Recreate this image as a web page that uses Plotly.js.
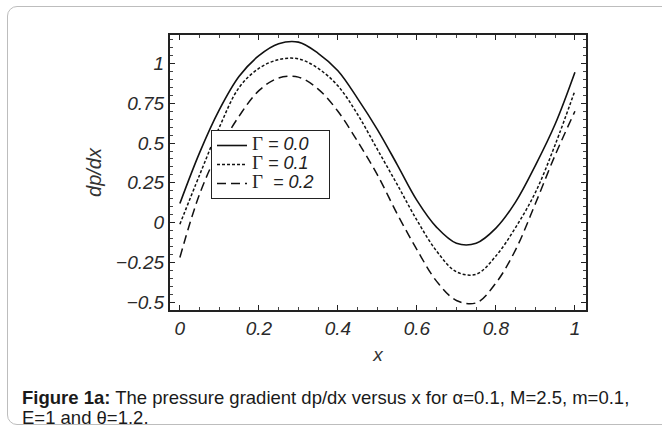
<!DOCTYPE html>
<html><head><meta charset="utf-8">
<script src="https://cdn.plot.ly/plotly-3.0.1.min.js"></script>
<style>
html,body{margin:0;padding:0;width:662px;height:428px;overflow:hidden;background:#fff;}
#frame{position:absolute;left:7px;top:6px;width:720px;height:419px;border:1px solid #bdbdbd;border-radius:10px;box-sizing:border-box;}
#chart{position:absolute;left:0;top:0;width:662px;height:428px;}
</style></head><body>
<div id="frame"></div><div id="chart"></div>
<script>
const xValues = [0,0.05,0.1,0.15,0.2,0.25,0.3,0.35,0.4,0.45,0.5,0.55,0.6,0.65,0.7,0.75,0.8,0.85,0.9,0.95,1.0];
const dpdxGamma00 = [0.12,0.44,0.71,0.92,1.05,1.125,1.135,1.065,0.955,0.78,0.585,0.365,0.14,-0.03,-0.13,-0.13,-0.035,0.13,0.36,0.62,0.946];
const dpdxGamma01 = [-0.01,0.30,0.60,0.85,0.97,1.025,1.03,0.97,0.86,0.68,0.46,0.24,0.015,-0.18,-0.31,-0.325,-0.21,-0.03,0.19,0.49,0.83];
const dpdxGamma02 = [-0.22,0.18,0.46,0.67,0.83,0.91,0.915,0.84,0.70,0.51,0.30,0.055,-0.17,-0.37,-0.49,-0.505,-0.38,-0.17,0.12,0.425,0.70];
const seriesNames = ['Γ = 0.0','Γ = 0.1','Γ  = 0.2'];
const xTickVals = [0,0.2,0.4,0.6,0.8,1];
const xTickText = ['0','0.2','0.4','0.6','0.8','1'];
const yTickVals = [-0.5,-0.25,0,0.25,0.5,0.75,1];
const yTickText = ['\u22120.5','\u22120.25','0','0.25','0.5','0.75','1'];
const captionBold = 'Figure 1a:';
const captionLine1 = ' The pressure gradient dp/dx versus x for α=0.1, M=2.5, m=0.1,';
const captionLine2 = 'E=1 and θ=1.2.';

function legendName(s){
  const i = s.indexOf('=');
  const pre = s.slice(1, i);
  return '<span style="font-size:18px"><span style="font-family:\'Liberation Serif\',serif;font-style:normal;font-size:19px">Γ</span>' +
         pre.replace(/ /g,'\u00a0') + '= ' + s.slice(i+1).trim() + '\u00a0\u00a0</span>';
}

const dashes = ['solid','3px,2px','9px,5px'];
const ys = [dpdxGamma00, dpdxGamma01, dpdxGamma02];
const traces = ys.map((y,i)=>({
  x: xValues, y: y, type:'scatter', mode:'lines',
  name: legendName(seriesNames[i]),
  line:{color:'#111', width: i===0?1.6:1.5, dash:dashes[i], shape:'spline', smoothing:1}
}));

const SANS = '"Liberation Sans", Arial, sans-serif';
const tickFont = {family:SANS, size:19, style:'italic', color:'#2a2a2a'};
const W=662,H=428,L=170,R=76,T=35,B=118;
const pw=W-L-R, ph=H-T-B;
function px2x(p){return (p-L)/pw;}
function py2y(p){return (H-B-p)/ph;}

const layout = {
  width:W, height:H,
  margin:{l:L,r:R,t:T,b:B,pad:0},
  paper_bgcolor:'rgba(0,0,0,0)', plot_bgcolor:'#fff',
  showlegend:true,
  legend:{x:px2x(211), y:py2y(130), xanchor:'left', yanchor:'top',
    bgcolor:'#fff', bordercolor:'#222', borderwidth:1,
    font:{family:SANS, size:12, style:'italic', color:'#222'},
    itemwidth:30, tracegroupgap:0},
  xaxis:{range:[-0.025,1.028], tickvals:xTickVals, ticktext:xTickText,
    ticks:'inside', ticklen:5, tickwidth:1, tickcolor:'#222',
    minor:{dtick:0.05, tick0:0, ticks:'inside', ticklen:3, tickcolor:'#444'},
    showline:true, linewidth:2, linecolor:'#222', mirror:'ticks',
    showgrid:false, zeroline:false, tickfont:tickFont,
    title:{text:'x', font:{family:SANS, size:19, style:'italic', color:'#333'}, standoff:10}},
  yaxis:{range:[-0.55,1.18], tickvals:yTickVals, ticktext:yTickText,
    ticks:'inside', ticklen:5, tickwidth:1, tickcolor:'#222',
    minor:{dtick:0.05, tick0:0, ticks:'inside', ticklen:3, tickcolor:'#444'},
    showline:true, linewidth:2, linecolor:'#222', mirror:'ticks',
    showgrid:false, zeroline:false, tickfont:tickFont,
    title:{text:'dp/dx', font:{family:SANS, size:20, style:'italic', color:'#333'}, standoff:9}},
  annotations:[
    {xref:'paper', yref:'paper', x:px2x(20), y:py2y(397), xanchor:'left', yanchor:'middle', showarrow:false, align:'left',
     text:'<b>'+captionBold+'</b>'+captionLine1,
     font:{family:SANS, size:18.5, color:'#1a1a1a'}},
    {xref:'paper', yref:'paper', x:px2x(20), y:py2y(417), xanchor:'left', yanchor:'middle', showarrow:false, align:'left',
     text:captionLine2,
     font:{family:SANS, size:18.5, color:'#1a1a1a'}}
  ]
};
Plotly.newPlot('chart', traces, layout, {displayModeBar:false, staticPlot:true});
</script>
</body></html>
